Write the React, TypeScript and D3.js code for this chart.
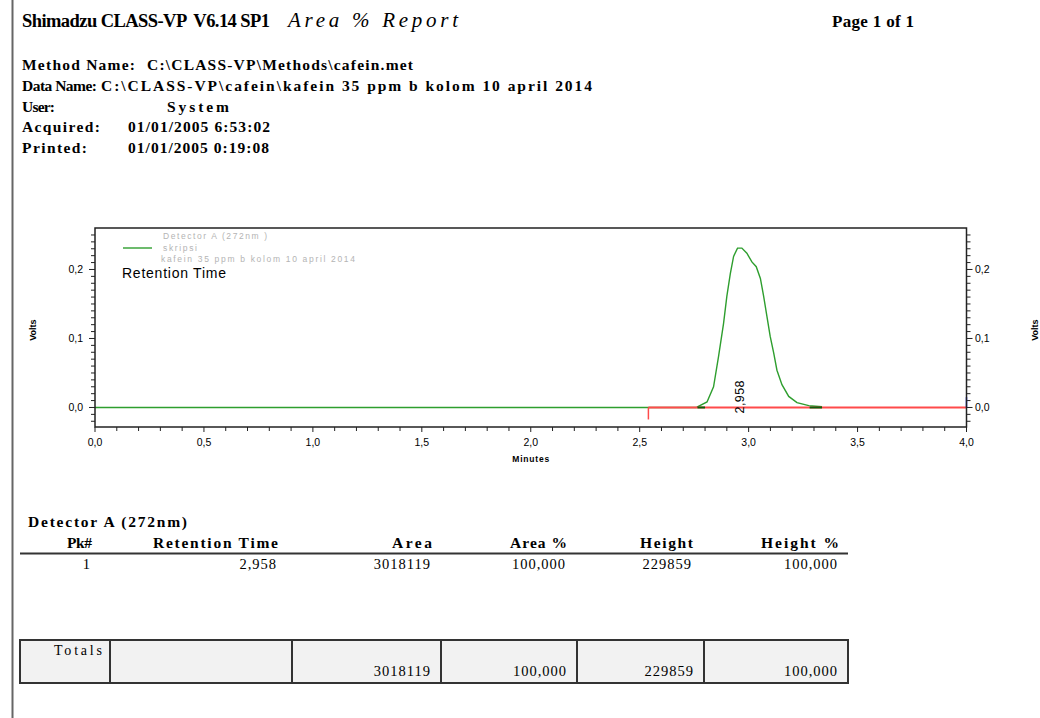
import React, { useEffect, useRef } from 'react';
import * as d3 from 'd3';

// chromatogram trace (minutes, volts)
const traceTime = [0, 2.76, 2.765, 2.809, 2.839, 2.862, 2.885, 2.9, 2.916, 2.931, 2.949, 2.969, 2.992, 3.015, 3.035, 3.054, 3.069, 3.084, 3.099, 3.115, 3.13, 3.153, 3.184, 3.222, 3.276, 3.337];
const traceVolts = [0, 0, 0.001, 0.008, 0.03, 0.074, 0.122, 0.161, 0.194, 0.219, 0.231, 0.231, 0.2235, 0.211, 0.204, 0.187, 0.161, 0.132, 0.103, 0.079, 0.054, 0.033, 0.016, 0.007, 0.0026, 0.001];

const baselineStart = 2.54;
const peakStart = [2.765, 2.8];
const peakEnd = [3.28, 3.337];
const peakLabels = [{ rt: 2.958, text: '2,958' }];

const xMajorTicks = [0, 0.5, 1, 1.5, 2, 2.5, 3, 3.5, 4];
const yMajorTicks = [0, 0.1, 0.2];

const legendLines = ['Detector A (272nm )', 'skripsi', 'kafein 35 ppm b kolom 10 april 2014'];

const metaLabels = ['Method Name:', 'Data Name:', 'User:', 'Acquired:', 'Printed:'];
const metaValues = ['C:\\CLASS-VP\\Methods\\cafein.met', 'C:\\CLASS-VP\\cafein\\kafein 35 ppm b kolom 10 april 2014', 'System', '01/01/2005 6:53:02', '01/01/2005 0:19:08'];

const tableHeaders = ['Pk#', 'Retention Time', 'Area', 'Area %', 'Height', 'Height %'];
const tableRows = [['1', '2,958', '3018119', '100,000', '229859', '100,000']];
const totalsRow = ['Totals', '', '3018119', '100,000', '229859', '100,000'];

// layout (pixel widths measured from the printed report)
const metaLabelW = [113, 75, 33, 78, 65];
const metaValueX = [147, 101, 167, 128, 128];
const metaValueW = [266, 491, 62, 142, 141];
const headerW = [25, 125, 40, 57, 53, 78];
const colRight = [92, 278, 432, 567, 693, 839];
const totalsEdges = [20, 110, 292, 441, 577, 704, 848];
const legendW = [104, 34, 194];

const SERIF = '"Liberation Serif", "Times New Roman", serif';
const SANS = '"Liberation Sans", Arial, sans-serif';

type G = d3.Selection<SVGGElement, unknown, null, undefined>;

function label(g: G, s: string, x: number, y: number, size: number, opts: { w?: number; bold?: boolean; italic?: boolean; anchor?: string; ls?: number } = {}) {
  const t = g.append('text').attr('x', x).attr('y', y).attr('font-size', size)
    .attr('text-anchor', opts.anchor || 'start').style('white-space', 'pre').text(s);
  if (opts.bold) t.attr('font-weight', 'bold');
  if (opts.italic) t.attr('font-style', 'italic');
  if (opts.ls) t.attr('letter-spacing', opts.ls);
  if (opts.w) t.attr('textLength', opts.w).attr('lengthAdjust', 'spacing');
  return t;
}

export default function App() {
  const ref = useRef<SVGSVGElement>(null);

  useEffect(() => {
    const svg = d3.select(ref.current);
    svg.selectAll('*').remove();

    svg.append('rect').attr('width', 1040).attr('height', 718).attr('fill', '#fff');
    // page edge
    svg.append('line').attr('x1', 12.5).attr('x2', 12.5).attr('y1', 0).attr('y2', 718)
      .attr('stroke', '#666').attr('stroke-width', 2);

    // ---- header
    const head = svg.append('g').attr('font-family', SERIF).attr('fill', '#000') as G;
    label(head, 'Shimadzu CLASS-VP  V6.14 SP1', 22, 27, 18.5, { w: 248, bold: true });
    label(head, 'Area % Report', 288, 27, 21, { w: 170, italic: true });
    label(head, 'Page 1 of 1', 832, 27, 17, { w: 82, bold: true });

    metaLabels.forEach((lab, i) => {
      const y = 70 + i * 20.8;
      label(head, lab, 22, y, 15.5, { w: metaLabelW[i], bold: true });
      label(head, metaValues[i], metaValueX[i], y, 15.5, { w: metaValueW[i], bold: true });
    });

    // ---- chart
    const x = d3.scaleLinear().domain([0, 4]).range([95, 966.5]);
    const y = d3.scaleLinear().domain([-0.0283, 0.2601]).range([427, 228]);
    const fmt = (v: number) => d3.format('.1f')(v).replace('.', ',');

    const chart = svg.append('g').attr('font-family', SANS) as G;

    // x ticks
    const xMinor = d3.range(0, 41).map(i => i / 10);
    chart.selectAll('line.xt').data(xMinor).join('line')
      .attr('x1', d => x(d)).attr('x2', d => x(d)).attr('y1', 427)
      .attr('y2', (d, i) => (i % 5 === 0 ? 432 : 431))
      .attr('stroke', '#222').attr('stroke-width', 1);
    chart.selectAll('text.xl').data(xMajorTicks).join('text')
      .attr('x', d => x(d)).attr('y', 446).attr('text-anchor', 'middle').attr('font-size', 10.5)
      .text(d => fmt(d));
    label(chart, 'Minutes', (x(0) + x(4)) / 2, 462, 8.5, { w: 37, bold: true, anchor: 'middle' });

    // y ticks both sides
    const yMinor = d3.range(-2, 26).map(i => i / 100);
    [{ x0: 95, dir: -1 }, { x0: 966.5, dir: 1 }].forEach(side => {
      chart.append('g').selectAll('line').data(yMinor).join('line')
        .attr('x1', side.x0).attr('x2', d => side.x0 + side.dir * (Math.round(d * 100) % 10 === 0 ? 6 : 4))
        .attr('y1', d => y(d)).attr('y2', d => y(d))
        .attr('stroke', '#222').attr('stroke-width', 1);
      chart.append('g').selectAll('text').data(yMajorTicks).join('text')
        .attr('x', side.dir < 0 ? 83 : 975).attr('y', d => y(d) + 4)
        .attr('text-anchor', side.dir < 0 ? 'end' : 'start').attr('font-size', 10.5)
        .text(d => fmt(d));
    });
    [36, 1038].forEach(cx => {
      chart.append('text').attr('transform', `translate(${cx},${y(0.112)}) rotate(-90)`)
        .attr('text-anchor', 'middle').attr('font-size', 9).attr('font-weight', 'bold').text('Volts');
    });

    // trace
    const pts = traceTime.map((t, i) => [t, traceVolts[i]] as [number, number]);
    const line = d3.line<[number, number]>().x(d => x(d[0])).y(d => y(d[1]));
    chart.append('path').attr('d', line(pts)).attr('fill', 'none')
      .attr('stroke', '#2e9e2e').attr('stroke-width', 1.4);

    // integration baseline
    chart.append('line').attr('x1', x(baselineStart)).attr('x2', x(4)).attr('y1', y(0)).attr('y2', y(0))
      .attr('stroke', '#ff4b4b').attr('stroke-width', 2);
    chart.append('line').attr('x1', x(baselineStart)).attr('x2', x(baselineStart))
      .attr('y1', y(0)).attr('y2', y(0) + 12).attr('stroke', '#ff4b4b').attr('stroke-width', 1.5);
    [peakStart, peakEnd].forEach(p => {
      chart.append('line').attr('x1', x(p[0])).attr('x2', x(p[1])).attr('y1', y(0)).attr('y2', y(0))
        .attr('stroke', '#0b5e0b').attr('stroke-width', 2);
    });
    chart.append('line').attr('x1', x(4)).attr('x2', x(4)).attr('y1', y(0.015)).attr('y2', y(0))
      .attr('stroke', '#2030ff').attr('stroke-width', 1.5);

    peakLabels.forEach(p => {
      chart.append('text').attr('transform', `translate(${x(p.rt) + 5},${y(0) - 10.5}) rotate(-90)`)
        .attr('text-anchor', 'middle').attr('font-size', 12.5).attr('textLength', 33)
        .attr('lengthAdjust', 'spacing').text(p.text);
    });

    // frame
    chart.append('rect').attr('x', 95).attr('y', 228).attr('width', 966.5 - 95).attr('height', 199)
      .attr('fill', 'none').attr('stroke', '#222').attr('stroke-width', 1.5);

    // legend
    chart.append('line').attr('x1', 123).attr('x2', 152).attr('y1', 248).attr('y2', 248)
      .attr('stroke', '#2e9e2e').attr('stroke-width', 1.4);
    const legX = [163, 163, 161];
    const legG = chart.append('g').attr('fill', '#b4b4b4') as G;
    legendLines.forEach((t, i) => {
      label(legG, t, legX[i], 239 + i * 11.5, 8.5, { w: legendW[i] });
    });
    label(chart, 'Retention Time', 122, 278, 14, { w: 104 });

    // ---- table
    const tbl = svg.append('g').attr('font-family', SERIF).attr('fill', '#000') as G;
    label(tbl, 'Detector A (272nm)', 28, 527, 15.5, { w: 159, bold: true });
    tableHeaders.forEach((h, i) => {
      label(tbl, h, colRight[i], 548, 15.5, { w: headerW[i], bold: true, anchor: 'end' });
    });
    tbl.append('line').attr('x1', 20).attr('x2', 848).attr('y1', 553.5).attr('y2', 553.5)
      .attr('stroke', '#333').attr('stroke-width', 2);
    tableRows.forEach((row, r) => {
      row.forEach((v, i) => {
        label(tbl, v, colRight[i] - 1, 569 + r * 20, 14.5, { anchor: 'end', ls: 1 });
      });
    });

    tbl.append('rect').attr('x', 20).attr('y', 640).attr('width', 828).attr('height', 43)
      .attr('fill', '#f2f2f2').attr('stroke', '#333').attr('stroke-width', 2);
    totalsEdges.slice(1, -1).forEach(e => {
      tbl.append('line').attr('x1', e).attr('x2', e).attr('y1', 640).attr('y2', 683)
        .attr('stroke', '#333').attr('stroke-width', 2);
    });
    totalsRow.forEach((v, i) => {
      if (!v) return;
      if (i === 0) label(tbl, v, totalsEdges[1] - 8, 655, 14, { anchor: 'end', w: 48 });
      else label(tbl, v, totalsEdges[i + 1] - 10, 676, 14.5, { anchor: 'end', ls: 1 });
    });
  }, []);

  return (
    <svg ref={ref} width={1040} height={718}
      style={{ position: 'absolute', left: 0, top: 0, display: 'block' }} />
  );
}
